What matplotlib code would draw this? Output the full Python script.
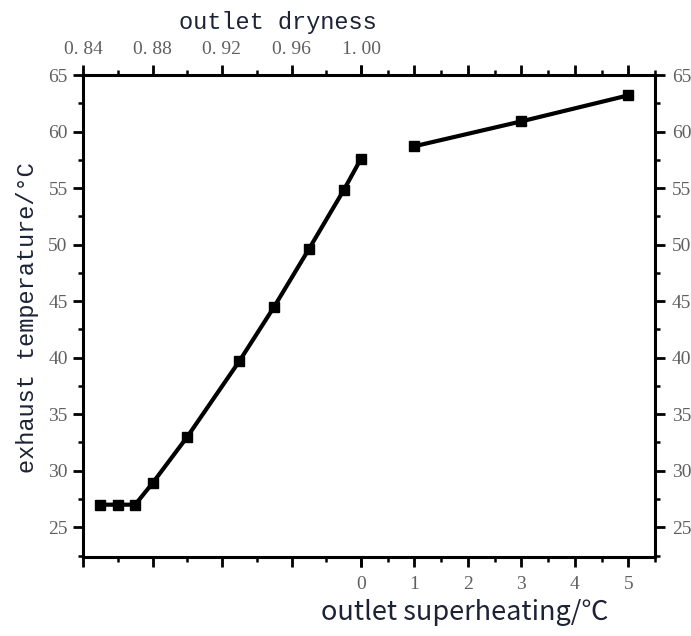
import numpy as np
import matplotlib.pyplot as plt
from matplotlib.ticker import MultipleLocator, FixedLocator, FixedFormatter

# dryness section (left part of the x axis)
dryness = [0.85, 0.86, 0.87, 0.88, 0.90, 0.93, 0.95, 0.97, 0.99, 1.00]
temp_dry = [27.0, 27.0, 27.0, 28.9, 33.0, 39.7, 44.5, 49.6, 54.8, 57.6]

# superheating section (right part of the x axis)
superheat = [1, 3, 5]
temp_sup = [58.7, 60.9, 63.2]

dry_ticks = [0.84, 0.88, 0.92, 0.96, 1.00]
dry_labels = ['0. 84', '0. 88', '0. 92', '0. 96', '1. 00']
sup_ticks = [0, 1, 2, 3, 4, 5]
sup_labels = ['0', '1', '2', '3', '4', '5']
temp_ticks = [25, 30, 35, 40, 45, 50, 55, 60, 65]

W, H = 691, 636
fig = plt.figure(figsize=(W / 100, H / 100), dpi=100)

# pixel geometry of the two halves of the plot box
x0, xm, x1 = 83, 361, 655
ytop, ybot = 75, 556.7
b = (H - ybot) / H
h = (ybot - ytop) / H
ax_d = fig.add_axes([x0 / W, b, (xm - x0) / W, h])
ax_s = fig.add_axes([xm / W, b, (x1 - xm) / W, h])

tick_color = '#606060'
tick_font = dict(family='Liberation Serif', size=14, color=tick_color)

for ax in (ax_d, ax_s):
    ax.set_ylim(22.4, 65)
    ax.yaxis.set_major_locator(FixedLocator(temp_ticks))
    ax.yaxis.set_minor_locator(MultipleLocator(2.5))
    for sp in ax.spines.values():
        sp.set_linewidth(2.2)
    ax.tick_params(which='major', direction='out', length=7, width=2, color='black')
    ax.tick_params(which='minor', direction='out', length=3.5, width=1.8, color='black')
    ax.patch.set_alpha(0)

# left half: dryness
ax_d.set_xlim(0.84, 1.00)
ax_d.xaxis.set_major_locator(FixedLocator(dry_ticks))
ax_d.xaxis.set_major_formatter(FixedFormatter(dry_labels))
ax_d.xaxis.set_minor_locator(MultipleLocator(0.02))
ax_d.spines['right'].set_visible(False)
ax_d.tick_params(axis='x', which='both', top=True, bottom=True, labeltop=True, labelbottom=False)
ax_d.tick_params(axis='x', which='major', pad=5)
ax_d.tick_params(axis='y', which='both', left=True, right=False, labelleft=True, labelright=False, pad=4)
ax_d.plot(dryness, temp_dry, color='black', lw=3, marker='s', ms=7, clip_on=False, zorder=5)

# right half: superheating
ax_s.set_xlim(0, 5.5)
ax_s.xaxis.set_major_locator(FixedLocator(sup_ticks))
ax_s.xaxis.set_major_formatter(FixedFormatter(sup_labels))
ax_s.xaxis.set_minor_locator(MultipleLocator(0.5))
ax_s.spines['left'].set_visible(False)
ax_s.tick_params(axis='x', which='both', top=True, bottom=True, labeltop=False, labelbottom=True)
ax_s.tick_params(axis='x', which='major', pad=7)
ax_s.tick_params(axis='y', which='both', left=False, right=True, labelleft=False, labelright=True, pad=5)
ax_s.plot(superheat, temp_sup, color='black', lw=3, marker='s', ms=7, clip_on=False, zorder=5)

for ax in (ax_d, ax_s):
    for lab in ax.get_xticklabels() + ax.get_yticklabels():
        lab.set_fontfamily(tick_font['family'])
        lab.set_fontsize(tick_font['size'])
        lab.set_color(tick_font['color'])

label_color = '#1c2336'
fig.text(278 / W, 1 - 22 / H, 'outlet dryness', family='Liberation Mono', fontsize=17,
         color=label_color, ha='center', va='center')
fig.text(28 / W, 1 - 318 / H, 'exhaust temperature/°C', family='Liberation Mono', fontsize=17,
         color=label_color, ha='center', va='center', rotation=90)
fig.text(465 / W, 1 - 612 / H, 'outlet superheating/℃', family=['Noto Sans CJK SC', 'DejaVu Sans'],
         fontsize=19.5, color=label_color, ha='center', va='center')

fig.savefig('out.png', dpi=100)
